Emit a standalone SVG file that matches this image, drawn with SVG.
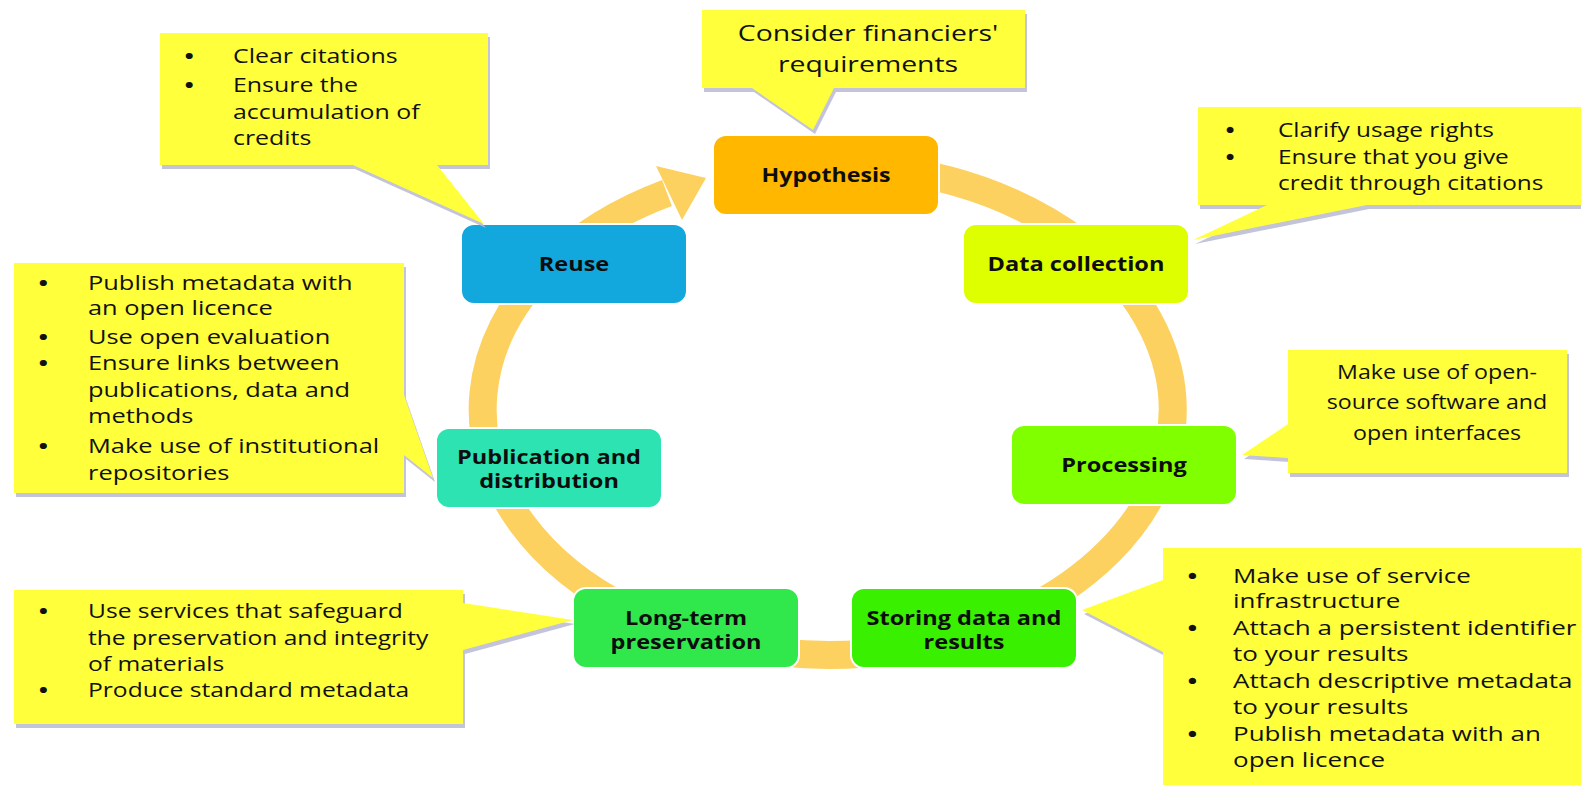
<svg xmlns="http://www.w3.org/2000/svg" width="1581" height="785" viewBox="0 0 1581 785">
<style>
.co{fill:#FFFF3C}
.sh{fill:#B9B9D2;opacity:0.85}
.ct{font-family:"Open Sans","Liberation Sans",sans-serif;font-size:20px;fill:#111111}
.bl{font-weight:bold}
.nl{font-family:"Open Sans","Liberation Sans",sans-serif;font-size:19px;font-weight:bold;fill:#0d0d0d;text-anchor:middle}
.nd{stroke:#ffffff;stroke-width:2}
.ring{fill:none;stroke:#FCD15F;stroke-width:28}
</style>
<rect x="0" y="0" width="1581" height="785" fill="#ffffff"/>
<g id="connectors">
<path class="ring" d="M716,178 A345,245 0 1 1 667,193"/>
<polygon fill="#FCD15F" points="656,166 706,178 682,220"/>
</g>
<g id="node-hypothesis"><rect class="nd" x="713" y="135" width="226" height="80" rx="13" fill="#FFB700"/><text class="nl" transform="translate(826,182) scale(1.22,1)">Hypothesis</text></g>
<g id="node-data-collection"><rect class="nd" x="963" y="224" width="226" height="80" rx="13" fill="#DDFF00"/><text class="nl" transform="translate(1076,271) scale(1.24,1)">Data collection</text></g>
<g id="node-processing"><rect class="nd" x="1011" y="425" width="226" height="80" rx="13" fill="#80FF00"/><text class="nl" transform="translate(1124,472) scale(1.24,1)">Processing</text></g>
<g id="node-storing"><rect class="nd" x="851" y="588" width="226" height="80" rx="13" fill="#38F000"/><text class="nl" transform="translate(964,0) scale(1.24,1)"><tspan x="0" y="625">Storing data and</tspan><tspan x="0" y="649">results</tspan></text></g>
<g id="node-long-term"><rect class="nd" x="573" y="588" width="226" height="80" rx="13" fill="#30E84C"/><text class="nl" transform="translate(686,0) scale(1.24,1)"><tspan x="0" y="625">Long-term</tspan><tspan x="0" y="649">preservation</tspan></text></g>
<g id="node-publication"><rect class="nd" x="436" y="428" width="226" height="80" rx="13" fill="#2DE3B2"/><text class="nl" transform="translate(549,0) scale(1.24,1)"><tspan x="0" y="464">Publication and</tspan><tspan x="0" y="488">distribution</tspan></text></g>
<g id="node-reuse"><rect class="nd" x="461" y="224" width="226" height="80" rx="13" fill="#12A8DE"/><text class="nl" transform="translate(574,271) scale(1.24,1)">Reuse</text></g>

<g id="callout-hypothesis">
<polygon class="sh" transform="translate(2,4)" points="702,10 1025,10 1025,88 834,88 813,130 752,88 702,88"/>
<polygon class="co" points="702,10 1025,10 1025,88 834,88 813,130 752,88 702,88"/>
<g transform="translate(868,0) scale(1.29,1)"><text class="ct" style="font-size:22px" text-anchor="middle"><tspan x="0" y="41">Consider financiers'</tspan><tspan x="0" y="72">requirements</tspan></text></g>
</g>
<g id="callout-reuse">
<polygon class="sh" transform="translate(2,4)" points="160,33 488,33 488,165 437,165 484,224 353,165 160,165"/>
<polygon class="co" points="160,33 488,33 488,165 437,165 484,224 353,165 160,165"/>
<g transform="translate(233,0) scale(1.245,1)"><text class="ct"><tspan class="bl" x="-39" y="63">•</tspan><tspan x="0" y="63">Clear citations</tspan><tspan class="bl" x="-39" y="92">•</tspan><tspan x="0" y="92">Ensure the</tspan><tspan x="0" y="119">accumulation of</tspan><tspan x="0" y="145">credits</tspan></text></g>
</g>
<g id="callout-data-collection">
<polygon class="sh" transform="translate(2,4)" points="1198,107 1581,107 1581,205 1367,205 1193,240 1267,205 1198,205"/>
<polygon class="co" points="1198,107 1581,107 1581,205 1367,205 1193,240 1267,205 1198,205"/>
<g transform="translate(1278,0) scale(1.22,1)"><text class="ct"><tspan class="bl" x="-43" y="137">•</tspan><tspan x="0" y="137">Clarify usage rights</tspan><tspan class="bl" x="-43" y="164">•</tspan><tspan x="0" y="164">Ensure that you give</tspan><tspan x="0" y="190">credit through citations</tspan></text></g>
</g>
<g id="callout-processing">
<polygon class="sh" transform="translate(2,4)" points="1288,350 1567,350 1567,473 1288,473 1288,458 1242,455 1288,424"/>
<polygon class="co" points="1288,350 1567,350 1567,473 1288,473 1288,458 1242,455 1288,424"/>
<g transform="translate(1437,0) scale(1.16,1)"><text class="ct" text-anchor="middle"><tspan x="0" y="379">Make use of open-</tspan><tspan x="0" y="409">source software and</tspan><tspan x="0" y="440">open interfaces</tspan></text></g>
</g>
<g id="callout-storing">
<polygon class="sh" transform="translate(2,4)" points="1163,548 1581,548 1581,785 1163,785 1163,652 1082,610 1163,580"/>
<polygon class="co" points="1163,548 1581,548 1581,785 1163,785 1163,652 1082,610 1163,580"/>
<g transform="translate(1233,0) scale(1.3,1)"><text class="ct"><tspan class="bl" x="-35" y="583">•</tspan><tspan x="0" y="583">Make use of service</tspan><tspan x="0" y="608">infrastructure</tspan><tspan class="bl" x="-35" y="635">•</tspan><tspan x="0" y="635">Attach a persistent identifier</tspan><tspan x="0" y="661">to your results</tspan><tspan class="bl" x="-35" y="688">•</tspan><tspan x="0" y="688">Attach descriptive metadata</tspan><tspan x="0" y="714">to your results</tspan><tspan class="bl" x="-35" y="741">•</tspan><tspan x="0" y="741">Publish metadata with an</tspan><tspan x="0" y="767">open licence</tspan></text></g>
</g>
<g id="callout-long-term">
<polygon class="sh" transform="translate(2,4)" points="14,590 463,590 463,603 573,620 463,650 463,724 14,724"/>
<polygon class="co" points="14,590 463,590 463,603 573,620 463,650 463,724 14,724"/>
<g transform="translate(88,0) scale(1.23,1)"><text class="ct"><tspan class="bl" x="-40" y="618">•</tspan><tspan x="0" y="618">Use services that safeguard</tspan><tspan x="0" y="645">the preservation and integrity</tspan><tspan x="0" y="671">of materials</tspan><tspan class="bl" x="-40" y="697">•</tspan><tspan x="0" y="697">Produce standard metadata</tspan></text></g>
</g>
<g id="callout-publication">
<polygon class="sh" transform="translate(2,4)" points="14,263 404,263 404,395 433,478 404,455 404,493 14,493"/>
<polygon class="co" points="14,263 404,263 404,395 433,478 404,455 404,493 14,493"/>
<g transform="translate(88,0) scale(1.27,1)"><text class="ct"><tspan class="bl" x="-39" y="290">•</tspan><tspan x="0" y="290">Publish metadata with</tspan><tspan x="0" y="315">an open licence</tspan><tspan class="bl" x="-39" y="344">•</tspan><tspan x="0" y="344">Use open evaluation</tspan><tspan class="bl" x="-39" y="370">•</tspan><tspan x="0" y="370">Ensure links between</tspan><tspan x="0" y="397">publications, data and</tspan><tspan x="0" y="423">methods</tspan><tspan class="bl" x="-39" y="453">•</tspan><tspan x="0" y="453">Make use of institutional</tspan><tspan x="0" y="480">repositories</tspan></text></g>
</g>
</svg>
